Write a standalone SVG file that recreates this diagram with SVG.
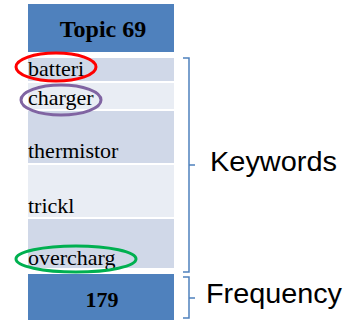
<svg xmlns="http://www.w3.org/2000/svg" width="347" height="320" viewBox="0 0 347 320">
<style>
.hdr{fill:#4F81BD}
.r1{fill:#D0D8E8}
.r2{fill:#E9EDF4}
.kw{font-family:"Liberation Serif","Times New Roman",serif;font-size:22px;fill:#000}
.bold{font-family:"Liberation Serif","Times New Roman",serif;font-weight:bold;fill:#000;text-anchor:middle}
.lbl{font-family:"Liberation Sans",Arial,sans-serif;font-size:27px;fill:#000}
.brace{fill:none;stroke:#4F81BD;stroke-width:1.5}
.ring{fill:none;stroke-width:3}
</style>
<rect width="347" height="320" fill="#FFFFFF"/>
<g id="header"><rect class="hdr" x="28" y="4" width="146" height="48"/><text class="bold" x="103" y="37" font-size="24">Topic 69</text></g>
<g id="row-batteri"><rect class="r1" x="28" y="58" width="146" height="23"/><text class="kw" x="28" y="76">batteri</text></g>
<g id="row-charger"><rect class="r2" x="28" y="83" width="146" height="26"/><text class="kw" x="28" y="105">charger</text></g>
<g id="row-thermistor"><rect class="r1" x="28" y="111" width="146" height="52"/><text class="kw" x="28" y="158">thermistor</text></g>
<g id="row-trickl"><rect class="r2" x="28" y="165" width="146" height="52"/><text class="kw" x="28" y="213">trickl</text></g>
<g id="row-overcharg"><rect class="r1" x="28" y="219" width="146" height="49"/><text class="kw" x="28" y="265">overcharg</text></g>
<g id="frequency-box"><rect class="hdr" x="28" y="274" width="146" height="46"/><text class="bold" x="102" y="307" font-size="22">179</text></g>
<g id="highlights">
<ellipse class="ring" cx="56" cy="67" rx="40" ry="14" stroke="#FF0000"/>
<ellipse class="ring" cx="61" cy="100" rx="40" ry="15" stroke="#8064A2"/>
<ellipse class="ring" cx="76" cy="259" rx="60" ry="13" stroke="#00B050"/>
</g>
<g id="connectors">
<path class="brace" d="M183,58 H189 V272 H183 M189,165 H195"/>
<path class="brace" d="M183,277 H189 V318 H183 M189,298 H195"/>
</g>
<g id="label-keywords"><text class="lbl" x="210" y="171" textLength="127" lengthAdjust="spacingAndGlyphs">Keywords</text></g>
<g id="label-frequency"><text class="lbl" x="206" y="303" textLength="136" lengthAdjust="spacingAndGlyphs">Frequency</text></g>
</svg>
